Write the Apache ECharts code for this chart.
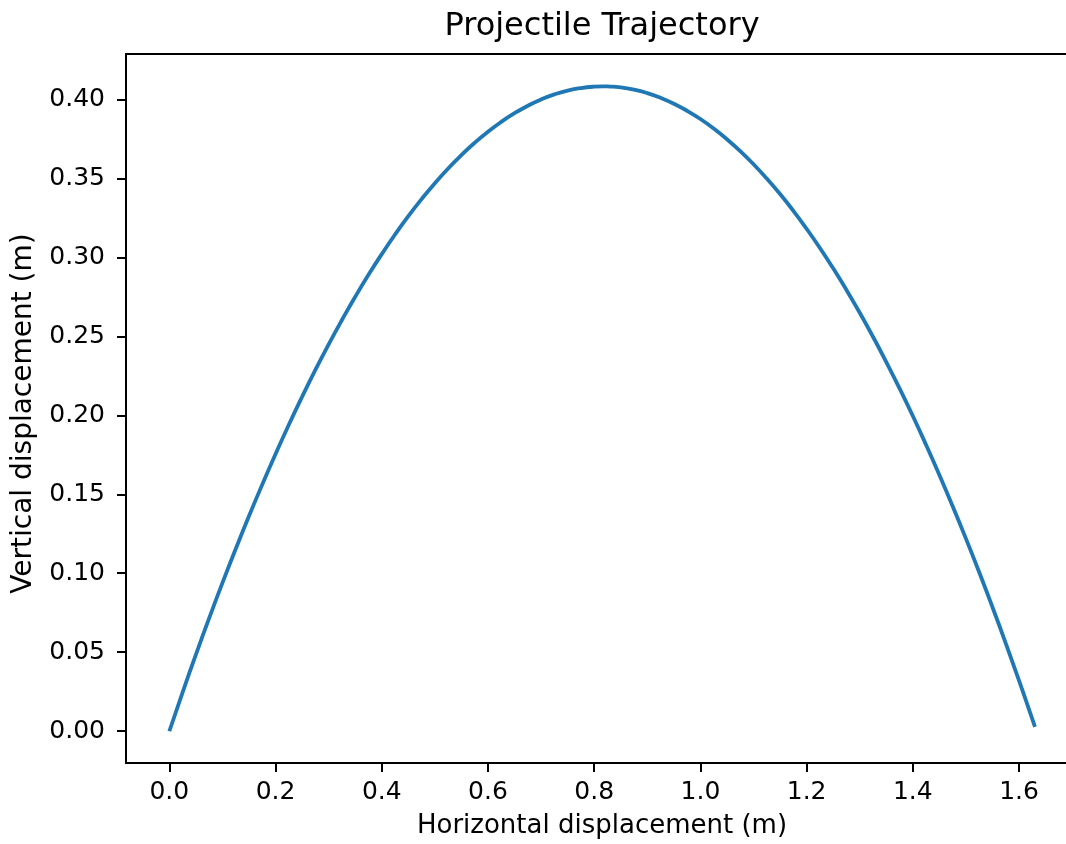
<!DOCTYPE html>
<html>
<head>
<meta charset="utf-8">
<script src="https://cdn.jsdelivr.net/npm/echarts@6/dist/echarts.min.js"></script>
<style>
html,body{margin:0;padding:0;background:#fff;}
#chart{width:1066px;height:844px;}
</style>
</head>
<body>
<div id="chart"></div>
<script>
// Horizontal displacement (m)
const xValues = [0, 0.025, 0.05, 0.075, 0.10, 0.125, 0.15, 0.175, 0.20, 0.225, 0.25, 0.275, 0.30, 0.325, 0.35, 0.375, 0.40, 0.425, 0.45, 0.475, 0.50, 0.525, 0.55, 0.575, 0.60, 0.625, 0.65, 0.675, 0.70, 0.725, 0.75, 0.775, 0.80, 0.8163, 0.825, 0.85, 0.875, 0.90, 0.925, 0.95, 0.975, 1.00, 1.025, 1.05, 1.075, 1.10, 1.125, 1.15, 1.175, 1.20, 1.225, 1.25, 1.275, 1.30, 1.325, 1.35, 1.375, 1.40, 1.425, 1.45, 1.475, 1.50, 1.525, 1.55, 1.575, 1.60, 1.615, 1.63];
// Vertical displacement (m)
const yValues = [0, 0.0246, 0.0485, 0.0716, 0.0939, 0.1154, 0.1362, 0.1562, 0.1755, 0.1940, 0.2117, 0.2287, 0.2449, 0.2603, 0.2750, 0.2889, 0.3020, 0.3144, 0.3260, 0.3368, 0.3469, 0.3562, 0.3647, 0.3725, 0.3795, 0.3857, 0.3912, 0.3959, 0.3999, 0.4031, 0.4055, 0.4071, 0.4080, 0.4082, 0.4081, 0.4075, 0.4061, 0.4039, 0.4009, 0.3972, 0.3927, 0.3875, 0.3815, 0.3747, 0.3672, 0.3589, 0.3498, 0.3400, 0.3294, 0.3180, 0.3059, 0.2930, 0.2793, 0.2649, 0.2497, 0.2337, 0.2170, 0.1995, 0.1812, 0.1622, 0.1424, 0.1219, 0.1006, 0.0785, 0.0556, 0.0320, 0.0175, 0.0027];
const xTicks = [0, 0.2, 0.4, 0.6, 0.8, 1.0, 1.2, 1.4, 1.6];
const yTicks = [0, 0.05, 0.10, 0.15, 0.20, 0.25, 0.30, 0.35, 0.40];

const FONT = 'DejaVu Sans';
const chart = echarts.init(document.getElementById('chart'), null, {renderer: 'canvas'});
const seriesData = xValues.map((x, i) => [x, yValues[i]]);
const X_MIN = -0.0816, X_MAX = 1.6884;

chart.setOption({
  animation: false,
  backgroundColor: '#ffffff',
  title: {
    text: 'Projectile Trajectory',
    left: 602,
    top: 11,
    padding: 0,
    textAlign: 'center',
    textStyle: {fontFamily: FONT, fontSize: 32, fontWeight: 'normal', color: '#000'}
  },
  grid: {left: 126, right: 0, top: 54, bottom: 80.5, show: false},
  xAxis: [{
    type: 'value',
    min: X_MIN, max: X_MAX,
    name: 'Horizontal displacement (m)',
    nameLocation: 'middle',
    nameGap: 50,
    nameTextStyle: {fontFamily: FONT, fontSize: 26, color: '#000', padding: [0, 0, 0, 12]},
    axisLine: {show: true, onZero: false, lineStyle: {color: '#000', width: 2}},
    axisTick: {show: true, length: 9, inside: false, customValues: xTicks, lineStyle: {color: '#000', width: 2}},
    axisLabel: {customValues: xTicks, margin: 17, fontFamily: FONT, fontSize: 25, color: '#000',
      formatter: v => v.toFixed(1)},
    splitLine: {show: false}
  }, {
    type: 'value',
    position: 'top',
    min: X_MIN, max: X_MAX,
    axisLine: {show: true, onZero: false, lineStyle: {color: '#000', width: 2}},
    axisTick: {show: false},
    axisLabel: {show: false},
    splitLine: {show: false}
  }],
  yAxis: {
    type: 'value',
    min: -0.0201, max: 0.42865,
    name: 'Vertical displacement (m)',
    nameLocation: 'middle',
    nameGap: 88,
    nameRotate: 90,
    nameTextStyle: {fontFamily: FONT, fontSize: 28, color: '#000', padding: [0, 10, 0, 0]},
    axisLine: {show: true, onZero: false, lineStyle: {color: '#000', width: 2}},
    axisTick: {show: true, length: 9, inside: false, customValues: yTicks, lineStyle: {color: '#000', width: 2}},
    axisLabel: {customValues: yTicks, margin: 21, fontFamily: FONT, fontSize: 25, color: '#000',
      formatter: v => v.toFixed(2)},
    splitLine: {show: false}
  },
  series: [{
    type: 'line',
    xAxisIndex: 0,
    data: seriesData,
    showSymbol: false,
    symbol: 'none',
    smooth: true,
    lineStyle: {color: '#1f77b4', width: 3.8},
    itemStyle: {color: '#1f77b4'}
  }]
});
</script>
</body>
</html>
